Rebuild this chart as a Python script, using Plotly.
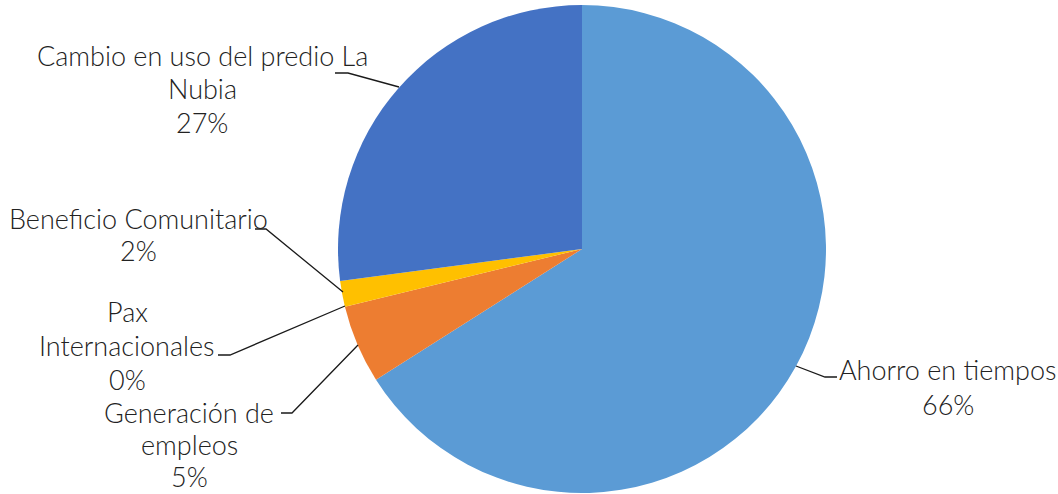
import plotly.graph_objects as go

# ---- data ----
categories = ["Ahorro en tiempos", "Generación de empleos", "Pax Internacionales",
              "Beneficio Comunitario", "Cambio en uso del predio La Nubia"]
values = [66.0, 5.2, 0.0, 1.7, 27.1]
pct_labels = ["66%", "5%", "0%", "2%", "27%"]
colors = ["#5B9BD5", "#ED7D31", "#A5A5A5", "#FFC000", "#4472C4"]

# label text lines (as shown wrapped in the chart)
label_lines = [
    ["Ahorro en tiempos", pct_labels[0]],
    ["Generación de", "empleos", pct_labels[1]],
    ["Pax", "Internacionales", pct_labels[2]],
    ["Beneficio Comunitario", pct_labels[3]],
    ["Cambio en uso del predio La", "Nubia", pct_labels[4]],
]

W, H = 1058, 494

def px(x):
    return x / W

def py(y):
    return 1 - y / H

# layout positions (pixels): label centre x, first line y, line step
label_pos = [
    (948, 369, 35),
    (189, 412, 32),
    (127, 311, 34),
    (138, 218, 33),
    (202, 55, 34),
]

leaders = [
    [(796, 366), (825, 377), (837, 377)],
    [(358, 345), (292, 413), (281, 413)],
    [(345, 306), (230, 355), (218, 355)],
    [(343, 292), (266, 229), (255, 229)],
    [(399, 87), (348, 73), (335, 73)],
]

FONT = "Lato"

fig = go.Figure()
fig.add_trace(go.Pie(
    labels=categories,
    values=values,
    sort=False,
    direction="clockwise",
    rotation=0,
    marker=dict(colors=colors, line=dict(width=0)),
    textinfo="none",
    hoverinfo="label+percent",
    showlegend=False,
    domain=dict(x=[px(338), px(826)], y=[py(493), py(5)]),
))

annotations = []
for lines, (cx, y0, step) in zip(label_lines, label_pos):
    for i, t in enumerate(lines):
        annotations.append(dict(
            text=t, x=px(cx), y=py(y0 + i * step), xref="paper", yref="paper",
            xanchor="center", yanchor="middle", showarrow=False,
            font=dict(family=FONT, size=27, color="#222222", weight=300),
        ))

shapes = []
for pts in leaders:
    path = "M " + " L ".join(f"{px(x)},{py(y)}" for x, y in pts)
    shapes.append(dict(type="path", path=path, xref="paper", yref="paper",
                       line=dict(color="#1a1a1a", width=1.3)))

fig.update_layout(
    width=W, height=H,
    margin=dict(l=0, r=0, t=0, b=0),
    paper_bgcolor="white", plot_bgcolor="white",
    annotations=annotations, shapes=shapes,
)

fig.write_html("out.html",
               config={"displayModeBar": False},
               post_script="document.body.style.margin='0';document.body.style.overflow='hidden';")
